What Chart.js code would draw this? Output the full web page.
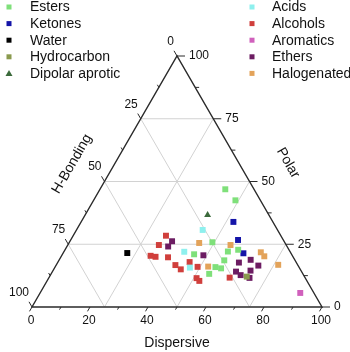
<!DOCTYPE html>
<html>
<head>
<meta charset="utf-8">
<script src="https://cdn.jsdelivr.net/npm/chart.js@4"></script>
<style>
html,body{margin:0;padding:0;background:#fff;}
#wrap{width:350px;height:352px;position:relative;}
</style>
</head>
<body>
<div id="wrap"><canvas id="c" width="350" height="352"></canvas></div>
<script>
// Ternary data: [Dispersive, Polar, H-Bonding]
const esters = [[43.2,46.9,9.9],[48.9,42.5,8.6],[49.3,25.8,24.9],[59.7,22.8,17.5],[45.4,21.0,33.6],[56.5,22.1,21.4],[57.0,18.6,24.4],[55.3,15.9,28.8],[57.5,15.4,27.1],[54.5,13.2,32.3]];
const ketones = [[52.5,33.9,13.6],[57.7,26.7,15.6],[62.2,21.4,16.4]];
const water = [[22.1,21.5,56.4]];
const hydrocarbon = [[68.0,12.1,19.9]];
const dipolarAprotic = [[42.2,36.7,21.1]];
const acids = [[43.5,30.7,25.8],[41.5,22.0,36.5],[46.6,15.7,37.7]];
const alcohols = [[32.0,28.4,39.6],[31.4,24.7,43.9],[30.7,20.4,48.9],[32.6,20.0,47.4],[37.0,19.8,43.2],[41.1,16.7,42.2],[43.8,15.0,41.2],[45.4,17.9,36.7],[49.1,16.0,34.9],[51.0,11.5,37.5],[52.5,10.4,37.1],[62.3,11.7,26.0]];
const aromatics = [[89.7,5.6,4.7]];
const ethers = [[35.2,26.2,38.6],[34.9,24.1,41.0],[48.8,20.6,30.6],[62.5,17.7,19.8],[66.0,18.8,15.2],[69.8,16.5,13.7],[68.1,14.5,17.4],[63.3,14.1,22.6],[65.6,12.7,21.7],[69.2,11.6,19.2]];
const halogenated = [[44.9,25.5,29.6],[56.1,24.7,19.2],[68.0,21.8,10.2],[70.0,20.2,9.8],[76.5,16.8,6.7],[52.7,16.1,31.2]];

const bottomTicks = [0,20,40,60,80,100];
const leftTicks = [0,25,50,75,100];
const rightTicks = [0,25,50,75,100];
const gridValues = [25,50,75];
const axisTitles = {bottom:'Dispersive', left:'H-Bonding', right:'Polar'};

const SQ = Math.sqrt(3)/2;
function cart(t){ return {x: t[0] + t[1]/2, y: t[1]*SQ}; }

const series = [
  {label:'Esters', data:esters, color:'#7fe07a', style:'rect', col:0},
  {label:'Ketones', data:ketones, color:'#1414a8', style:'rect', col:0},
  {label:'Water', data:water, color:'#000000', style:'rect', col:0},
  {label:'Hydrocarbon', data:hydrocarbon, color:'#8a9a4e', style:'rect', col:0},
  {label:'Dipolar aprotic', data:dipolarAprotic, color:'#3b6a3b', style:'triangle', col:0},
  {label:'Acids', data:acids, color:'#8ef0ee', style:'rect', col:1},
  {label:'Alcohols', data:alcohols, color:'#d03f3c', style:'rect', col:1},
  {label:'Aromatics', data:aromatics, color:'#d060bc', style:'rect', col:1},
  {label:'Ethers', data:ethers, color:'#6c1c62', style:'rect', col:1},
  {label:'Halogenated', data:halogenated, color:'#e3a35a', style:'rect', col:1}
];

const FONT = '"Liberation Sans", Arial, Helvetica, sans-serif';

const ternaryPlugin = {
  id:'ternary',
  beforeDatasetsDraw(chart){
    const ctx = chart.ctx, xs = chart.scales.x, ys = chart.scales.y;
    const P = (cx,cy)=>[xs.getPixelForValue(cx), ys.getPixelForValue(cy)];
    const line=(a,b)=>{ctx.beginPath();ctx.moveTo(a[0],a[1]);ctx.lineTo(b[0],b[1]);ctx.stroke();};
    ctx.save();
    // grid
    ctx.strokeStyle='#d2d2d2'; ctx.lineWidth=1;
    gridValues.forEach(v=>{
      line(P(v/2, SQ*v), P(100-v/2, SQ*v));               // constant polar
      line(P(v,0), P(v+(100-v)/2, SQ*(100-v)));            // constant dispersive
      line(P(100-v,0), P((100-v)/2, SQ*(100-v)));          // constant H-bonding
    });
    // triangle
    const A=P(0,0), B=P(100,0), C=P(50,100*SQ);
    ctx.strokeStyle='#2a2a2a'; ctx.lineWidth=1.4;
    ctx.beginPath();ctx.moveTo(A[0],A[1]);ctx.lineTo(B[0],B[1]);ctx.lineTo(C[0],C[1]);ctx.closePath();ctx.stroke();
    ctx.lineWidth=1;
    ctx.fillStyle='#111'; ctx.font='12px '+FONT;
    // bottom axis ticks
    for(let v=0; v<=100; v+=10){
      const p=P(v,0), L=(v%20===0)?5:3;
      line(p,[p[0]-0.5*L,p[1]+SQ*L]);
    }
    ctx.textAlign='center'; ctx.textBaseline='middle';
    bottomTicks.forEach(v=>{ const p=P(v,0); ctx.fillText(String(v), p[0]-1, p[1]+14); });
    // right axis (Polar)
    for(let v=0; v<=100; v+=12.5){
      const p=P(100-v/2, SQ*v), L=(v%25===0)?8:4;
      line(p,[p[0]+L,p[1]]);
    }
    ctx.textAlign='left';
    rightTicks.forEach(v=>{ const p=P(100-v/2, SQ*v); ctx.fillText(String(v), p[0]+12, p[1]); });
    // left axis (H-Bonding)
    for(let v=0; v<=100; v+=12.5){
      const p=P((100-v)/2, SQ*(100-v)), L=(v%25===0)?6:3;
      line(p,[p[0]-0.5*L,p[1]-SQ*L]);
    }
    ctx.textAlign='right';
    leftTicks.forEach(v=>{ const p=P((100-v)/2, SQ*(100-v)); ctx.fillText(String(v), p[0]-3, p[1]-14.5); });
    // titles
    ctx.textAlign='center';
    ctx.font='14px '+FONT;
    ctx.fillText(axisTitles.bottom, (A[0]+B[0])/2, 343);
    ctx.save(); ctx.translate(72,164); ctx.rotate(-Math.PI/3); ctx.fillText(axisTitles.left,0,0); ctx.restore();
    ctx.save(); ctx.translate(288,163); ctx.rotate(Math.PI/3); ctx.fillText(axisTitles.right,0,0); ctx.restore();
    ctx.restore();
  },
  afterDraw(chart){
    const ctx=chart.ctx;
    ctx.save();
    ctx.font='14px '+FONT; ctx.textAlign='left'; ctx.textBaseline='middle';
    const rows=[0,0];
    series.forEach(s=>{
      const i=rows[s.col]++;
      const y=7+i*16.6;
      const mx = s.col===0?9:252, tx = s.col===0?30:272;
      ctx.fillStyle=s.color;
      if(s.style==='triangle'){
        ctx.beginPath();ctx.moveTo(mx,y-3.5);ctx.lineTo(mx+3.5,y+2.5);ctx.lineTo(mx-3.5,y+2.5);ctx.closePath();ctx.fill();
      } else ctx.fillRect(mx-2.5,y-2.5,5,5);
      ctx.fillStyle='#111';
      ctx.fillText(s.label,tx,y+0.5);
    });
    ctx.restore();
  }
};

new Chart(document.getElementById('c'),{
  type:'scatter',
  data:{ datasets: series.map(s=>({
    label:s.label,
    data:s.data.map(cart),
    backgroundColor:s.color,
    borderColor:s.color,
    borderWidth:0,
    pointStyle:s.style,
    pointRadius:s.style==='triangle'?4:4.2,
    pointHoverRadius:4.2
  }))},
  options:{
    responsive:false,
    animation:false,
    devicePixelRatio:1,
    layout:{padding:{left:32,right:28,top:56,bottom:45}},
    scales:{
      x:{type:'linear',min:0,max:100,display:false},
      y:{type:'linear',min:0,max:100*SQ,display:false}
    },
    plugins:{legend:{display:false},tooltip:{enabled:false}}
  },
  plugins:[ternaryPlugin]
});
</script>
</body>
</html>
